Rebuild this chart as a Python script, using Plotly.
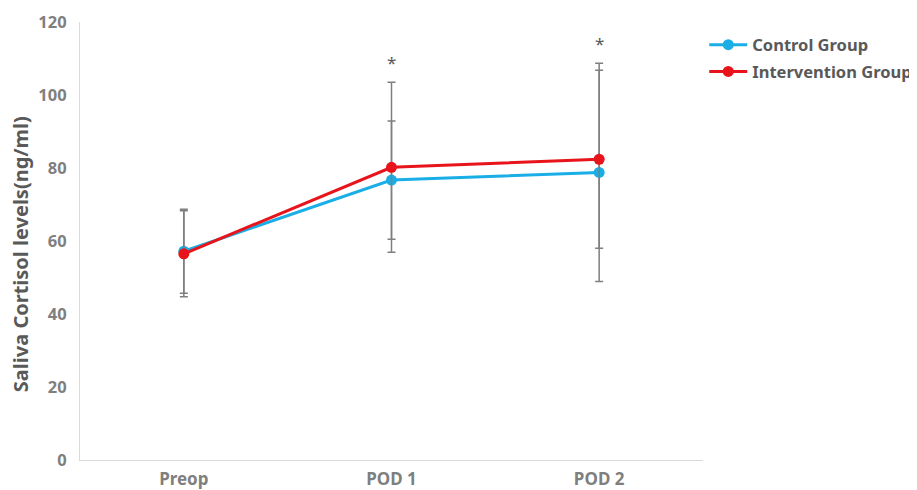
import plotly.graph_objects as go

categories = ["Preop", "POD 1", "POD 2"]
control_mean = [57.2, 76.7, 78.8]
control_sd = [11.5, 16.2, 29.9]
intervention_mean = [56.5, 80.2, 82.4]
intervention_sd = [11.8, 23.3, 24.4]
significant = [False, True, True]
y_ticks = [0, 20, 40, 60, 80, 100, 120]
y_title = "Saliva Cortisol levels(ng/ml)"

FONT = "Noto Sans"
LEG_FONT = dict(family=FONT, size=16.5, color="#595959", weight="bold")
fig = go.Figure()

fig.add_trace(go.Scatter(
    x=categories, y=control_mean, name="Control Group", mode="lines+markers",
    line=dict(color="#1AAEE6", width=3), marker=dict(size=11, color="#1AAEE6"),
    error_y=dict(type="data", array=control_sd, visible=True, color="#7F7F7F", thickness=1.5, width=4),
    legend="legend",
))
fig.add_trace(go.Scatter(
    x=categories, y=intervention_mean, name="Intervention Group", mode="lines+markers",
    line=dict(color="#E8141B", width=3), marker=dict(size=11, color="#E8141B"),
    error_y=dict(type="data", array=intervention_sd, visible=True, color="#7F7F7F", thickness=1.5, width=4),
    legend="legend2",
))

for cat, sig, cm, cs, im, isd in zip(categories, significant, control_mean, control_sd, intervention_mean, intervention_sd):
    if sig:
        top = max(cm + cs, im + isd)
        fig.add_annotation(x=cat, y=top, text="*", showarrow=False, yanchor="bottom",
                           yshift=6, font=dict(family=FONT, size=17, color="#595959"))

# y-axis title as a rotated annotation (placed slightly below the plot centre, as in the reference)
fig.add_annotation(text=y_title, xref="paper", yref="paper", x=-0.0963, y=0.47,
                   xanchor="center", yanchor="middle", textangle=-90, showarrow=False,
                   font=dict(family=FONT, size=20, color="#595959", weight="bold"))

fig.update_layout(
    width=960, height=482,
    margin=dict(l=72, r=265, t=14, b=30),
    plot_bgcolor="white", paper_bgcolor="white",
    showlegend=True,
    legend=dict(x=1.002, y=0.9475, xanchor="left", yanchor="middle", font=LEG_FONT,
                itemwidth=38, bgcolor="rgba(0,0,0,0)"),
    legend2=dict(x=1.002, y=0.8865, xanchor="left", yanchor="middle", font=LEG_FONT,
                 itemwidth=38, bgcolor="rgba(0,0,0,0)"),
    xaxis=dict(range=[-0.5, 2.5], showgrid=False, showline=True, linecolor="#D9D9D9", linewidth=1,
               ticks="", ticklabelstandoff=4,
               tickfont=dict(family=FONT, size=17, color="#7F7F7F", weight="bold"),
               zeroline=False, automargin=False),
    yaxis=dict(range=[0, 120], tickvals=y_ticks, showgrid=False, showline=True,
               linecolor="#D9D9D9", linewidth=1, ticks="", ticklabelstandoff=9,
               tickfont=dict(family=FONT, size=16.5, color="#7F7F7F", weight="bold"),
               zeroline=False, automargin=False),
)

fig.write_html("out.html")
